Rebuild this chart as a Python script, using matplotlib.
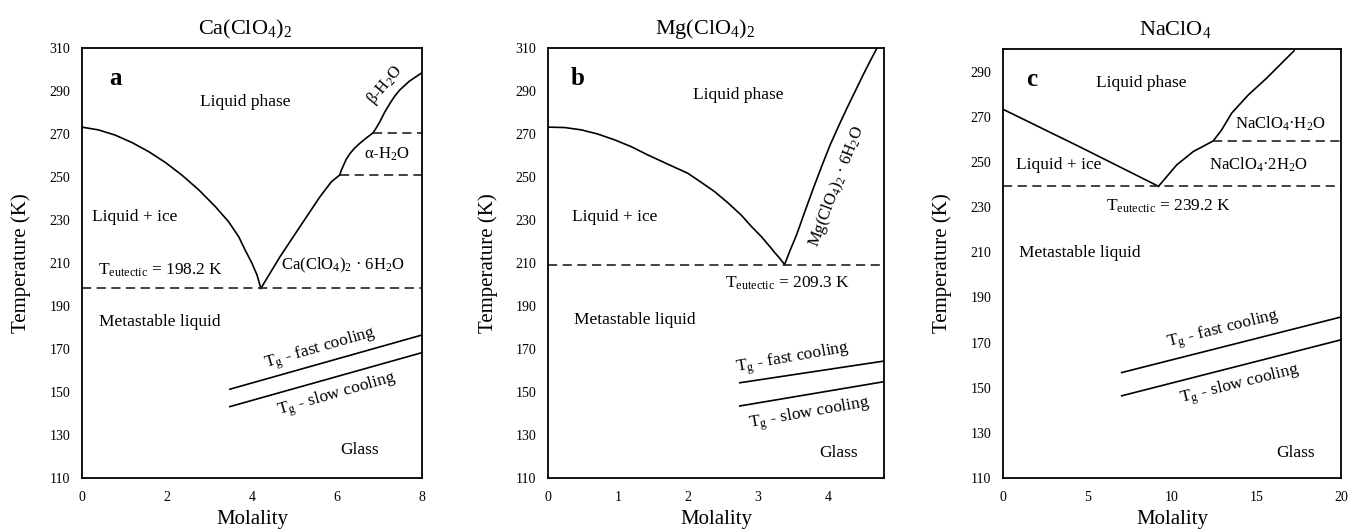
import matplotlib
matplotlib.use("Agg")
import matplotlib.pyplot as plt

plt.rcParams["font.family"] = ["Liberation Serif", "DejaVu Serif"]
plt.rcParams["mathtext.fontset"] = "custom"
plt.rcParams["mathtext.rm"] = "Liberation Serif"
plt.rcParams["mathtext.it"] = "Liberation Serif:italic"
plt.rcParams["mathtext.bf"] = "Liberation Serif:bold"

# ---- Ca(ClO4)2 ----
ca_ice_m = [0, 0.39, 0.78, 1.18, 1.57, 1.96, 2.35, 2.75, 3.14, 3.45, 3.69, 3.84, 4.0, 4.12, 4.21]
ca_ice_T = [273.2, 271.9, 269.5, 266.0, 261.8, 256.8, 250.9, 244.0, 236.2, 229.2, 222.2,
            216.0, 209.9, 204.4, 198.2]
ca_hex_m = [4.21, 4.66, 5.13, 5.6, 5.87, 6.07]
ca_hex_T = [198.2, 212.9, 226.9, 240.8, 247.8, 251.0]
ca_alpha_m = [6.07, 6.1, 6.15, 6.22, 6.31, 6.42, 6.54, 6.7, 6.85]
ca_alpha_T = [251.0, 253.0, 255.2, 258.3, 261.0, 263.5, 265.7, 268.3, 270.5]
ca_beta_m = [6.85, 6.93, 7.01, 7.12, 7.25, 7.36, 7.48, 7.7, 8.0]
ca_beta_T = [270.5, 273.0, 275.7, 280.0, 284.3, 287.6, 290.5, 294.5, 298.5]
ca_eutectic = 198.2
ca_alpha_lo, ca_alpha_hi = 251.0, 270.5
ca_tg_m = [3.48, 8.0]
ca_tg_fast = [151.3, 176.5]
ca_tg_slow = [143.2, 168.3]

# ---- Mg(ClO4)2 ----
mg_ice_m = [0, 0.24, 0.48, 0.71, 0.95, 1.19, 1.43, 1.71, 2.0, 2.19, 2.38, 2.57, 2.76,
            2.9, 3.05, 3.17, 3.24, 3.31, 3.38]
mg_ice_T = [273.2, 273.0, 271.9, 270.0, 267.3, 264.1, 260.2, 256.0, 251.7, 247.5, 243.2,
            238.0, 232.3, 227.2, 222.2, 217.6, 214.8, 212.2, 209.3]
mg_hex_m = [3.38, 3.46, 3.55, 3.67, 3.79, 3.91, 4.03, 4.15, 4.27, 4.39, 4.5, 4.6, 4.7]
mg_hex_T = [209.3, 216.0, 223.0, 234.0, 244.7, 255.0, 264.9, 273.6, 282.0, 290.0,
            297.4, 303.8, 310.0]
mg_eutectic = 209.3
mg_tg_m = [2.74, 4.8]
mg_tg_fast = [154.3, 164.4]
mg_tg_slow = [143.5, 154.8]

# ---- NaClO4 ----
na_ice_m = [0, 4.56, 9.2]
na_ice_T = [273.3, 256.6, 239.2]
na_hyd_m = [9.2, 10.28, 11.26, 12.44, 12.94, 13.53, 14.52, 15.6, 17.22]
na_hyd_T = [239.2, 248.7, 254.6, 259.3, 264.2, 271.6, 279.7, 287.1, 299.2]
na_eutectic = 239.2
na_dihydrate_top = 259.3
na_tg_m = [7.02, 20.0]
na_tg_fast = [156.7, 181.3]
na_tg_slow = [146.4, 171.2]

LW = 1.2
DASH = (0, (5.5, 3.3))
LBL = 12.5


def style_axes(ax, xmax, xticks, ymax, yticks, title, title_x):
    ax.set_xlim(0, xmax)
    ax.set_ylim(110, ymax)
    ax.set_xticks(xticks)
    ax.set_yticks(yticks)
    ax.tick_params(length=0, labelsize=10)
    ax.tick_params(axis="x", pad=9.5)
    ax.tick_params(axis="y", pad=8.4)
    for s in ax.spines.values():
        s.set_linewidth(1.3)
    ax.set_xlabel("Molality", fontsize=15)
    ax.xaxis.set_label_coords(0.5, -0.075)
    ax.set_ylabel("Temperature (K)", fontsize=15)
    ax.yaxis.set_label_coords(-0.15, 0.5)
    ax.set_title(title, fontsize=16, pad=10, x=title_x)


fig = plt.figure(figsize=(13.48, 5.31), dpi=100)
ax_a = fig.add_axes([0.0608, 0.0998, 0.2522, 0.8098])
ax_b = fig.add_axes([0.4065, 0.0998, 0.2493, 0.8098])
ax_c = fig.add_axes([0.7441, 0.0998, 0.2507, 0.8079])

# panel a
ax = ax_a
ax.plot(ca_ice_m, ca_ice_T, color="black", lw=LW)
ax.plot(ca_hex_m, ca_hex_T, color="black", lw=LW)
ax.plot(ca_alpha_m, ca_alpha_T, color="black", lw=LW)
ax.plot(ca_beta_m, ca_beta_T, color="black", lw=LW)
ax.plot([0, 8], [ca_eutectic] * 2, color="#222222", lw=LW, linestyle=DASH)
ax.plot([ca_alpha_m[0], 8], [ca_alpha_lo] * 2, color="#222222", lw=LW, linestyle=DASH)
ax.plot([ca_alpha_m[-1], 8], [ca_alpha_hi] * 2, color="#222222", lw=LW, linestyle=DASH)
ax.plot(ca_tg_m, ca_tg_fast, color="black", lw=LW)
ax.plot(ca_tg_m, ca_tg_slow, color="black", lw=LW)
style_axes(ax, 8, range(0, 9, 2), 310, range(110, 311, 20), r"Ca(ClO$_4$)$_2$", 0.479)
ax.text(0.78, 296, "a", fontsize=18, fontweight="bold", ha="center", va="center")
ax.text(3.84, 285, "Liquid phase", fontsize=LBL, ha="center", va="center")
ax.text(7.13, 292.8, r"β-H$_2$O", fontsize=LBL - 0.5, ha="center", va="center", rotation=50)
ax.text(7.17, 260.7, r"α-H$_2$O", fontsize=LBL - 0.5, ha="center", va="center")
ax.text(1.25, 231.5, "Liquid + ice", fontsize=LBL, ha="center", va="center")
ax.text(1.84, 206.7, r"T$_{\mathrm{eutectic}}$ = 198.2 K", fontsize=LBL, ha="center", va="center")
ax.text(6.15, 208.7, r"Ca(ClO$_4$)$_2$ · 6H$_2$O", fontsize=LBL - 0.5, ha="center", va="center")
ax.text(1.84, 182.7, "Metastable liquid", fontsize=LBL, ha="center", va="center")
ax.text(5.6, 170.3, r"T$_{\mathrm{g}}$ - fast cooling", fontsize=LBL, ha="center", va="center", rotation=16)
ax.text(5.99, 148.6, r"T$_{\mathrm{g}}$ - slow cooling", fontsize=LBL, ha="center", va="center", rotation=16)
ax.text(6.54, 123, "Glass", fontsize=LBL, ha="center", va="center")

# panel b
ax = ax_b
ax.plot(mg_ice_m, mg_ice_T, color="black", lw=LW)
ax.plot(mg_hex_m, mg_hex_T, color="black", lw=LW)
ax.plot([0, 4.8], [mg_eutectic] * 2, color="#222222", lw=LW, linestyle=DASH)
ax.plot(mg_tg_m, mg_tg_fast, color="black", lw=LW)
ax.plot(mg_tg_m, mg_tg_slow, color="black", lw=LW)
style_axes(ax, 4.8, range(0, 5), 310, range(110, 311, 20), r"Mg(ClO$_4$)$_2$", 0.467)
ax.text(0.43, 296, "b", fontsize=18, fontweight="bold", ha="center", va="center")
ax.text(2.72, 288, "Liquid phase", fontsize=LBL, ha="center", va="center")
ax.text(4.12, 245.5, r"Mg(ClO$_4$)$_2$ · 6H$_2$O", fontsize=LBL - 0.5, ha="center", va="center", rotation=69)
ax.text(0.96, 231.5, "Liquid + ice", fontsize=LBL, ha="center", va="center")
ax.text(3.43, 200.6, r"T$_{\mathrm{eutectic}}$ = 209.3 K", fontsize=LBL, ha="center", va="center")
ax.text(1.24, 183.5, "Metastable liquid", fontsize=LBL, ha="center", va="center")
ax.text(3.5, 165.7, r"T$_{\mathrm{g}}$ - fast cooling", fontsize=LBL, ha="center", va="center", rotation=10)
ax.text(3.74, 140, r"T$_{\mathrm{g}}$ - slow cooling", fontsize=LBL, ha="center", va="center", rotation=10)
ax.text(4.15, 121.5, "Glass", fontsize=LBL, ha="center", va="center")

# panel c
ax = ax_c
ax.plot(na_ice_m, na_ice_T, color="black", lw=LW)
ax.plot(na_hyd_m, na_hyd_T, color="black", lw=LW)
ax.plot([0, 20], [na_eutectic] * 2, color="#222222", lw=LW, linestyle=DASH)
ax.plot([na_hyd_m[3], 20], [na_dihydrate_top] * 2, color="#222222", lw=LW, linestyle=DASH)
ax.plot(na_tg_m, na_tg_fast, color="black", lw=LW)
ax.plot(na_tg_m, na_tg_slow, color="black", lw=LW)
style_axes(ax, 20, range(0, 21, 5), 300, range(110, 291, 20), r"NaClO$_4$", 0.509)
ax.text(1.7, 286.3, "c", fontsize=18, fontweight="bold", ha="center", va="center")
ax.text(8.2, 284.9, "Liquid phase", fontsize=LBL, ha="center", va="center")
ax.text(16.4, 267, r"NaClO$_4$·H$_2$O", fontsize=LBL - 0.5, ha="center", va="center")
ax.text(3.27, 248.7, "Liquid + ice", fontsize=LBL, ha="center", va="center")
ax.text(15.1, 248.7, r"NaClO$_4$·2H$_2$O", fontsize=LBL - 0.5, ha="center", va="center")
ax.text(9.78, 230.2, r"T$_{\mathrm{eutectic}}$ = 239.2 K", fontsize=LBL, ha="center", va="center")
ax.text(4.56, 209.6, "Metastable liquid", fontsize=LBL, ha="center", va="center")
ax.text(13.04, 175.6, r"T$_{\mathrm{g}}$ - fast cooling", fontsize=LBL, ha="center", va="center", rotation=14)
ax.text(14.0, 151.3, r"T$_{\mathrm{g}}$ - slow cooling", fontsize=LBL, ha="center", va="center", rotation=14)
ax.text(17.3, 121, "Glass", fontsize=LBL, ha="center", va="center")

fig.savefig("out.png", dpi=100)
